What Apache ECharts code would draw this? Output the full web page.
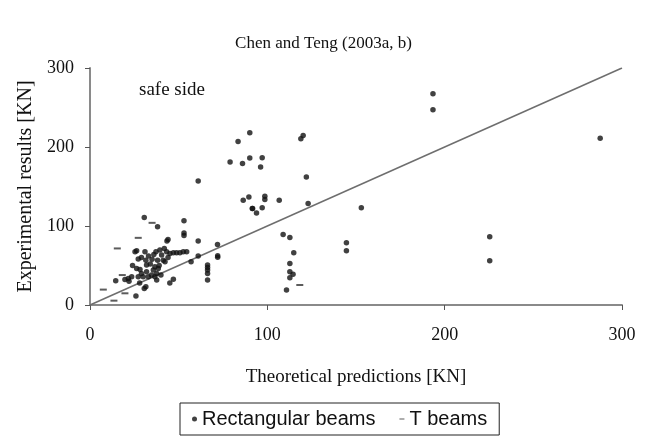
<!DOCTYPE html>
<html>
<head>
<meta charset="utf-8">
<script src="https://cdn.jsdelivr.net/npm/echarts@6/dist/echarts.min.js"></script>
<style>
  html, body { margin: 0; padding: 0; background: #fff; }
  #chart { width: 647px; height: 440px; }
</style>
</head>
<body>
<div id="chart"></div>
<script>
// axis ticks
const xTicks = [0, 100, 200, 300];
const yTicks = [0, 100, 200, 300];

// [theoretical, experimental] in KN
const rectBeams = [
  [19.7, 32.4], [21.6, 33.7], [23.5, 35.8], [25.4, 67.4], [27.2, 58.1], [26.3, 46.3],
  [28.2, 45], [27.2, 35.8], [30, 35.8], [31, 67.4], [31.5, 56.8], [31.9, 50.5],
  [31.9, 42.1], [32.9, 35.8], [34.7, 37.9], [35.7, 44.2], [36.6, 35.8], [37.6, 40],
  [37.6, 31.6], [37.2, 67.4], [38.1, 56.8], [39.4, 69.5], [40.4, 63.2], [41.3, 56.8],
  [41.9, 71.6], [43.2, 67.4], [42.3, 54.7], [45.1, 65.3], [47, 66.1], [48.8, 66.1],
  [50.7, 66.1], [52.6, 67.4], [54.5, 67.4], [36.6, 48.4], [38.5, 46.3], [30.6, 21],
  [31.5, 23], [26.3, 68.6], [29, 60], [33, 62], [35, 58], [24, 50], [29, 40],
  [34, 52], [39, 50], [36, 64], [44, 60], [40, 38], [22, 30], [28, 28],
  [61, 157], [30.6, 110.7], [38.1, 99], [53, 106.5], [86.4, 132.6], [89.6, 136.8],
  [91.5, 122], [53, 91], [53, 88], [43.4, 81], [44, 83], [61, 81], [71.9, 76.6],
  [72, 62.5], [72, 60.5], [57, 54.7], [61, 62], [66.3, 50.5], [66.3, 47.6],
  [66.3, 44.2], [66.3, 40], [66.3, 31.6], [47, 32.5], [45, 28], [25.9, 11.4],
  [14.5, 30.7], [193.4, 267.4], [193.4, 247.2], [90.1, 218], [118.9, 210.5],
  [120.2, 214.7], [83.5, 207], [90.1, 186], [97.1, 186.5], [86, 179], [79, 181],
  [96.2, 174.7], [122, 162], [98.6, 137.7], [98.6, 133.5], [106.7, 132.6],
  [91.7, 122], [93.9, 116.6], [97.1, 123], [123, 128.4], [153, 123], [108.9, 89.3],
  [112.7, 85.5], [144.6, 78.7], [144.6, 68.6], [114.9, 66.1], [112.7, 52.6],
  [112.7, 42.1], [114.5, 38.8], [112.7, 34.5], [110.8, 19], [287.7, 211],
  [225.4, 86.3], [225.4, 56]
];
const tBeams = [
  [35, 104], [27.2, 85], [15.4, 71.6], [18.2, 37.9], [7.5, 19.5], [13.5, 5.5],
  [19.7, 14.8], [118.3, 25.3]
];
// line of equality
const equalityLine = [[0, 0], [300, 300]];

const serif = 'Liberation Serif';

const chart = echarts.init(document.getElementById('chart'));

const option = {
  animation: false,
  backgroundColor: '#fff',
  title: {
    text: 'Chen and Teng (2003a, b)',
    left: 'center',
    top: 30,
    textStyle: { fontFamily: serif, fontSize: 17, fontWeight: 'normal', color: '#111' }
  },
  graphic: [{
    type: 'text',
    left: 139,
    top: 81,
    style: { text: 'safe side', font: '19px "Liberation Serif"', fill: '#111' }
  }],
  legend: {
    bottom: 5,
    left: 180,
    data: [
      { name: 'Rectangular beams', icon: 'circle' },
      { name: 'T beams', icon: 'path://M0,0H10V2H0Z' }
    ],
    itemWidth: 5,
    itemHeight: 5,
    itemGap: 24,
    borderColor: '#222',
    borderWidth: 1,
    borderRadius: 0,
    padding: [6, 12, 6, 12],
    textStyle: { fontFamily: 'Liberation Sans', fontSize: 20, color: '#111' }
  },
  grid: { left: 90, right: 25, top: 68, bottom: 135 },
  xAxis: {
    type: 'value',
    min: xTicks[0],
    max: xTicks[xTicks.length - 1],
    interval: 100,
    name: 'Theoretical predictions [KN]',
    nameLocation: 'middle',
    nameGap: 63,
    nameTextStyle: { fontFamily: serif, fontSize: 19, color: '#111' },
    axisLine: { lineStyle: { color: '#8a8a8a', width: 2 } },
    axisTick: { length: 5, lineStyle: { color: '#555' } },
    axisLabel: { margin: 21, fontFamily: serif, fontSize: 18, color: '#111' },
    splitLine: { show: false }
  },
  yAxis: {
    type: 'value',
    min: yTicks[0],
    max: yTicks[yTicks.length - 1],
    interval: 100,
    name: 'Experimental results [KN]',
    nameLocation: 'middle',
    nameGap: 54,
    nameTextStyle: { fontFamily: serif, fontSize: 20, color: '#111' },
    axisLine: { show: true, lineStyle: { color: '#8a8a8a', width: 2 } },
    axisTick: { show: true, length: 5, lineStyle: { color: '#555' } },
    axisLabel: { margin: 16, fontFamily: serif, fontSize: 18, color: '#111' },
    splitLine: { show: false }
  },
  series: [
    {
      type: 'line',
      data: equalityLine,
      symbol: 'none',
      silent: true,
      lineStyle: { color: '#6e6e6e', width: 1.5 },
      z: 1
    },
    {
      name: 'Rectangular beams',
      type: 'scatter',
      data: rectBeams,
      symbol: 'circle',
      symbolSize: 5.5,
      itemStyle: { color: '#111' },
      z: 3
    },
    {
      name: 'T beams',
      type: 'scatter',
      data: tBeams,
      symbol: 'rect',
      symbolSize: [7, 2],
      itemStyle: { color: '#333' },
      z: 3
    }
  ]
};

chart.setOption(option);
window.addEventListener('resize', function () {
  chart.resize();
});
</script>
</body>
</html>
